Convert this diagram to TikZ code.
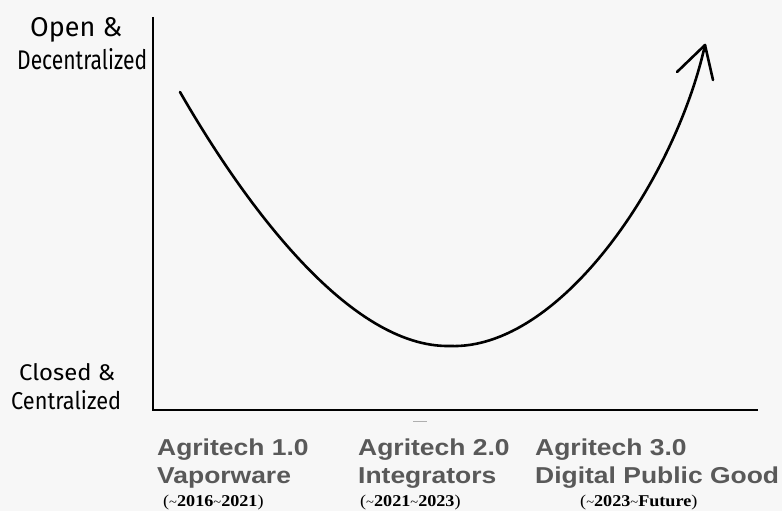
\documentclass[tikz,border=0pt]{standalone}
\usepackage{fontspec}
\setmainfont{Liberation Serif}
\setsansfont{Liberation Sans}
\newfontfamily\handfont{Fira Sans}
\definecolor{bgc}{RGB}{247,247,247}
\definecolor{labc}{RGB}{89,89,89}
\definecolor{markc}{RGB}{175,175,175}
\begin{document}
\begin{tikzpicture}[x=1pt,y=-1pt,
  era/.style={anchor=base west, inner sep=0pt, text=labc, font=\sffamily\bfseries\fontsize{23}{23}\selectfont},
  yr/.style={anchor=base west, inner sep=0pt, font=\rmfamily\fontsize{16.5}{16.5}\selectfont},
  hw/.style={anchor=base west, inner sep=0pt, font=\handfont\fontsize{18}{18}\selectfont},
  axisline/.style={line width=2.8pt},
  curveline/.style={line width=2.6pt, line cap=round, line join=round}]
\fill[bgc] (0,0) rectangle (782,511);
\useasboundingbox (0,0) rectangle (782,511);
% axes
\coordinate (ytop) at (153,17);
\coordinate (orig) at (153,410);
\coordinate (xend) at (758,410);
\draw[axisline] (ytop) -- (orig) -- (xend);
% axis labels
\node[hw] (open) at (30,37) {\resizebox{92pt}{19pt}{Open \&}};
\node[hw] (decen) at (17,70) {\resizebox{130pt}{21pt}{Decentralized}};
\node[hw] (closed) at (19,380) {\resizebox{96pt}{17pt}{Closed \&}};
\node[hw] (centr) at (11,409) {\resizebox{110pt}{19pt}{Centralized}};
% curve
\coordinate (cstart) at (180,92);
\coordinate (cmin) at (450,346);
\coordinate (tip) at (705,45);
\coordinate (wl) at (677,72);
\coordinate (wr) at (713,80);
\draw[curveline] (cstart) .. controls (245,205) and (350,348) .. (cmin)
  .. controls (560,350) and (675,180) .. (tip);
\draw[curveline] (wl) -- (tip) -- (wr);
% small mark
\coordinate (ma) at (413,421);
\coordinate (mb) at (427,421);
\draw[markc, line width=1pt] (ma) -- (mb);
% era labels
\newcommand{\yrs}[2]{(\scalebox{0.8}{\textasciitilde}\textbf{#1}\scalebox{0.8}{\textasciitilde}\textbf{#2})}
\node[era] (a1) at (157,455) {\scalebox{1.15}[1]{Agritech 1.0}};
\node[era] (v1) at (157,483) {\scalebox{1.15}[1]{Vaporware}};
\node[yr] (y1) at (163,506) {\scalebox{1.1}[1]{\yrs{2016}{2021}}};
\node[era] (a2) at (358,455) {\scalebox{1.15}[1]{Agritech 2.0}};
\node[era] (v2) at (358,483) {\scalebox{1.15}[1]{Integrators}};
\node[yr] (y2) at (360,506) {\scalebox{1.1}[1]{\yrs{2021}{2023}}};
\node[era] (a3) at (535,455) {\scalebox{1.15}[1]{Agritech 3.0}};
\node[era] (v3) at (535,483) {\scalebox{1.15}[1]{Digital Public Good}};
\node[yr] (y3) at (580,506) {\scalebox{1.1}[1]{\yrs{2023}{Future}}};
\end{tikzpicture}
\end{document}
